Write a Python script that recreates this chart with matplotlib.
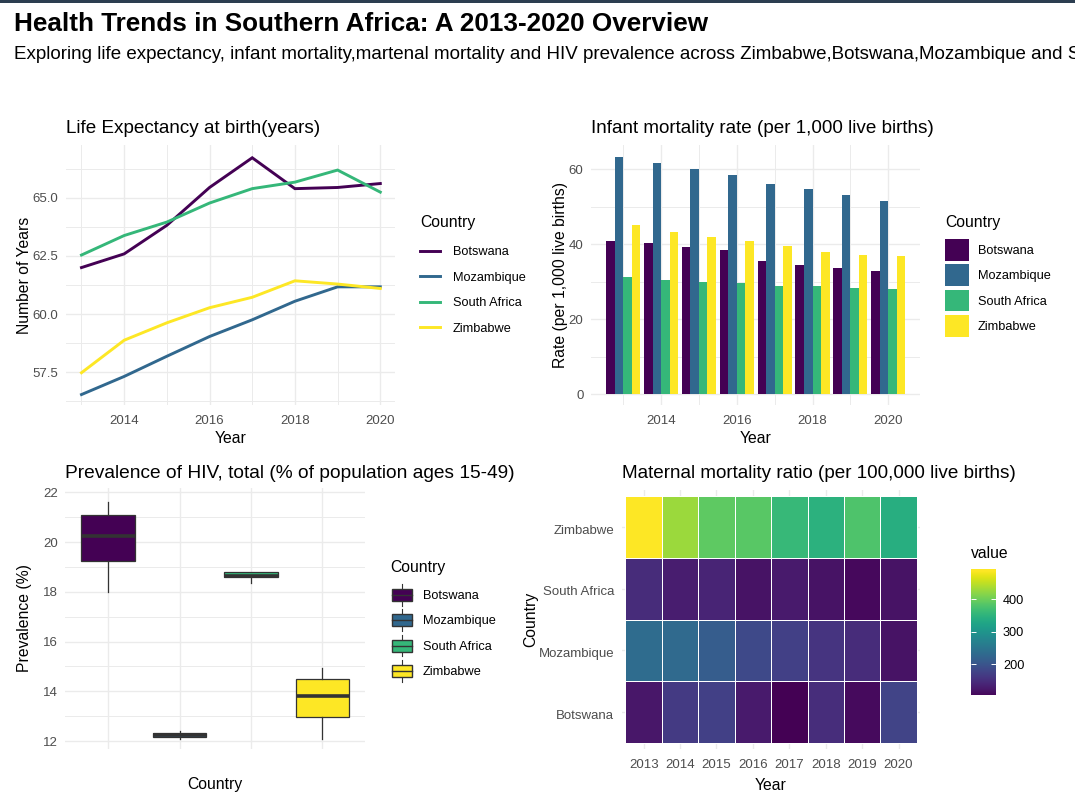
import matplotlib
matplotlib.use("Agg")
import matplotlib.pyplot as plt
import numpy as np
from matplotlib.legend_handler import HandlerBase
from matplotlib.lines import Line2D
from matplotlib.patches import Patch, Rectangle
from matplotlib.transforms import ScaledTranslation

plt.rcParams['font.family'] = ['Liberation Sans', 'DejaVu Sans']

W, H = 1075, 807

countries = ['Botswana', 'Mozambique', 'South Africa', 'Zimbabwe']
colors = ['#440154', '#31688E', '#35B779', '#FDE725']
years = [2013, 2014, 2015, 2016, 2017, 2018, 2019, 2020]

# life expectancy
life_botswana = [62.0, 62.59, 63.82, 65.45, 66.73, 65.40, 65.45, 65.62]
life_mozambique = [56.53, 57.31, 58.18, 59.03, 59.75, 60.55, 61.17, 61.17]
life_south_africa = [62.54, 63.38, 63.96, 64.78, 65.40, 65.68, 66.2, 65.25]
life_zimbabwe = [57.47, 58.87, 59.62, 60.27, 60.72, 61.43, 61.29, 61.10]

# infant mortality
inf_botswana = [40.7, 40.4, 39.1, 38.3, 35.6, 34.5, 33.7, 32.9]
inf_mozambique = [63.1, 61.5, 59.9, 58.3, 55.9, 54.6, 53.0, 51.6]
inf_south_africa = [31.3, 30.5, 30.0, 29.5, 28.9, 28.7, 28.4, 28.1]
inf_zimbabwe = [45.2, 43.1, 42.0, 40.7, 39.4, 38.0, 37.0, 36.7]

# hiv boxes, one value per country
hiv_low = [18.0, 12.1, 18.34, 12.09]
hiv_q1 = [19.23, 12.17, 18.58, 12.95]
hiv_med = [20.24, 12.25, 18.63, 13.82]
hiv_q3 = [21.09, 12.33, 18.8, 14.49]
hiv_high = [21.62, 12.4, 18.8, 14.92]

# maternal mortality
mat_botswana = [128, 171, 179, 132, 105, 155, 115, 183]
mat_mozambique = [241, 237, 218, 190, 179, 163, 152, 124]
mat_south_africa = [152, 136, 144, 124, 132, 124, 113, 124]
mat_zimbabwe = [493, 435, 396, 392, 365, 353, 384, 349]


def px_axes(left, top, right, bottom):
    return fig.add_axes([left / W, 1 - bottom / H, (right - left) / W, (bottom - top) / H])


def style(ax, title, xlabel, ylabel, xlab_y, ylab_x, title_size=13.6, title_pad=8.5):
    ax.set_facecolor('white')
    for s in ax.spines.values():
        s.set_visible(False)
    ax.set_axisbelow(True)
    ax.grid(which='major', color='#EBEBEB', lw=1.0)
    ax.grid(which='minor', color='#EBEBEB', lw=0.7)
    ax.tick_params(which='both', length=0)
    ax.tick_params(axis='x', labelsize=9.5, labelcolor='#4D4D4D', pad=7.2)
    ax.tick_params(axis='y', labelsize=9.5, labelcolor='#4D4D4D', pad=5.5)
    ax.set_title(title, loc='left', fontsize=title_size, color='black', pad=title_pad)
    box = ax.get_position()
    left, width = box.x0 * W, box.width * W
    top, height = (1 - box.y1) * H, box.height * H
    ax.set_xlabel(xlabel, fontsize=11.3, va='center')
    ax.set_ylabel(ylabel, fontsize=11.3, va='center')
    ax.xaxis.set_label_coords(0.5, 1 - (xlab_y - top) / height)
    ax.yaxis.set_label_coords((ylab_x - left) / width, 0.5)


class BoxKey(HandlerBase):
    def create_artists(self, legend, orig, xd, yd, width, height, fontsize, trans):
        cx = width / 2 - xd
        cy = height / 2 - yd
        w, h = width * 0.8, height * 0.56
        rect = Rectangle((cx - w / 2, cy - h / 2), w, h, facecolor=orig.get_facecolor(),
                         edgecolor='#333333', lw=1.0, transform=trans)
        med = Line2D([cx - w / 2, cx + w / 2], [cy, cy], color='#333333', lw=1.0, transform=trans)
        up = Line2D([cx, cx], [cy + h / 2, cy + height / 2], color='#333333', lw=0.8, transform=trans)
        low = Line2D([cx, cx], [cy - height / 2, cy - h / 2], color='#333333', lw=0.8, transform=trans)
        return [up, low, rect, med]


def add_legend(ax, handles, x, y, title_gap, **kw):
    leg = ax.legend(handles=handles, labels=countries, title='Country', loc='upper left',
                    bbox_to_anchor=(x / W, 1 - y / H), bbox_transform=fig.transFigure,
                    frameon=False, fontsize=9.2, title_fontsize=11.3, alignment='left',
                    borderpad=0, borderaxespad=0, **kw)
    leg._legend_box.sep = title_gap
    return leg


fig = plt.figure(figsize=(W / 100, H / 100), dpi=100, facecolor='white')

fig.add_artist(Rectangle((0, 1 - 3 / H), 1, 3 / H, transform=fig.transFigure,
                         facecolor='#2C3E50', edgecolor='none'))
fig.text(14 / W, 1 - 24 / H, 'Health Trends in Southern Africa: A 2013-2020 Overview',
         fontsize=18.8, fontweight='bold', va='center', ha='left')
fig.text(14 / W, 1 - 54.5 / H,
         'Exploring life expectancy, infant mortality,martenal mortality and HIV prevalence '
         'across Zimbabwe,Botswana,Mozambique and South Africa',
         fontsize=13.5, va='center', ha='left')

# life expectancy lines
ax1 = px_axes(65.9, 145, 394.8, 405)
for vals, c in zip([life_botswana, life_mozambique, life_south_africa, life_zimbabwe], colors):
    ax1.plot(years, vals, color=c, lw=2.1, solid_joinstyle='miter')
ax1.set_xlim(2012.635, 2020.34)
ax1.set_ylim(56.08, 67.28)
ax1.set_xticks([2014, 2016, 2018, 2020])
ax1.set_xticks([2013, 2015, 2017, 2019], minor=True)
ax1.set_yticks([57.5, 60, 62.5, 65], ['57.5', '60.0', '62.5', '65.0'])
ax1.set_yticks([56.25, 58.75, 61.25, 63.75, 66.25], minor=True)
style(ax1, 'Life Expectancy at birth(years)', 'Year', 'Number of Years', 439, 24.5)
add_legend(ax1, [Line2D([], [], color=c, lw=2.1) for c in colors], 420, 215, 11.8,
           handlelength=1.6, handletextpad=0.95, labelspacing=1.05)

# infant mortality bars
ax2 = px_axes(591.2, 145, 919.7, 405)
x = np.array(years)
bar_w = 0.225
for i, (vals, c) in enumerate(zip([inf_botswana, inf_mozambique, inf_south_africa, inf_zimbabwe], colors)):
    ax2.bar(x + (i - 1.5) * bar_w, vals, width=bar_w, color=c)
ax2.set_xlim(2012.156, 2020.83)
ax2.set_ylim(-2.93, 66.4)
ax2.set_xticks([2014, 2016, 2018, 2020])
ax2.set_xticks([2013, 2015, 2017, 2019], minor=True)
ax2.set_yticks([0, 20, 40, 60])
ax2.set_yticks([10, 30, 50], minor=True)
style(ax2, 'Infant mortality rate (per 1,000 live births)', 'Year', 'Rate (per 1,000 live births)', 439, 560.5)
add_legend(ax2, [Patch(facecolor=c) for c in colors], 945, 215, 6.5,
           handlelength=1.87, handleheight=2.23, handletextpad=0.72, labelspacing=0.29)

# hiv boxes
ax3 = px_axes(65.4, 488, 365.3, 749)
stats = [dict(whislo=hiv_low[i], q1=hiv_q1[i], med=hiv_med[i], q3=hiv_q3[i], whishi=hiv_high[i], fliers=[])
         for i in range(4)]
parts = ax3.bxp(stats, positions=[1, 2, 3, 4], widths=0.75, patch_artist=True, showcaps=False,
                showfliers=False, manage_ticks=False,
                boxprops=dict(edgecolor='#333333', lw=0.9),
                whiskerprops=dict(color='#333333', lw=0.9),
                medianprops=dict(color='#333333', lw=2.6, solid_capstyle='butt'))
for b, c in zip(parts['boxes'], colors):
    b.set_facecolor(c)
ax3.set_xlim(0.4, 4.6)
ax3.set_ylim(11.68, 22.18)
ax3.set_xticks([1, 2, 3, 4], ['', '', '', ''])
ax3.set_yticks([12, 14, 16, 18, 20, 22])
ax3.set_yticks([13, 15, 17, 19, 21], minor=True)
style(ax3, 'Prevalence of HIV, total (% of population ages 15-49)', 'Country', 'Prevalence (%)', 785, 24.5,
      title_size=13.8, title_pad=7)
add_legend(ax3, [Patch(facecolor=c) for c in colors], 390, 560, 6.5,
           handlelength=1.87, handleheight=2.23, handletextpad=0.72, labelspacing=0.29,
           handler_map={Patch: BoxKey()})

# maternal mortality tiles
ax4 = px_axes(621.8, 490, 920.4, 749)
mat = np.array([mat_botswana, mat_mozambique, mat_south_africa, mat_zimbabwe])
mesh = ax4.pcolormesh(years, np.arange(4), mat, cmap='viridis', vmin=105, vmax=493,
                      shading='nearest', edgecolors='white', linewidth=0.5)
ax4.set_xlim(2012.4, 2020.6)
ax4.set_ylim(-0.6, 3.6)
ax4.set_xticks(years)
ax4.set_yticks([0, 1, 2, 3], countries)
style(ax4, 'Maternal mortality ratio (per 100,000 live births)', 'Year', 'Country', 785, 530.5)
for label in ax4.get_yticklabels():
    label.set_transform(label.get_transform() + ScaledTranslation(0, -1.5 / 72, fig.dpi_scale_trans))

cax = px_axes(971, 569, 996, 695)
cbar = fig.colorbar(mesh, cax=cax, ticks=[200, 300, 400])
cbar.outline.set_visible(False)
cbar.solids.set_edgecolor('face')
cax.tick_params(axis='y', direction='in', left=True, right=True, color='white', length=3.5,
                width=0.7, labelsize=9.2, labelcolor='black', pad=5)
cax.set_title('value', loc='left', fontsize=11.3, pad=8)

fig.savefig('out.png', dpi=100, facecolor='white')
